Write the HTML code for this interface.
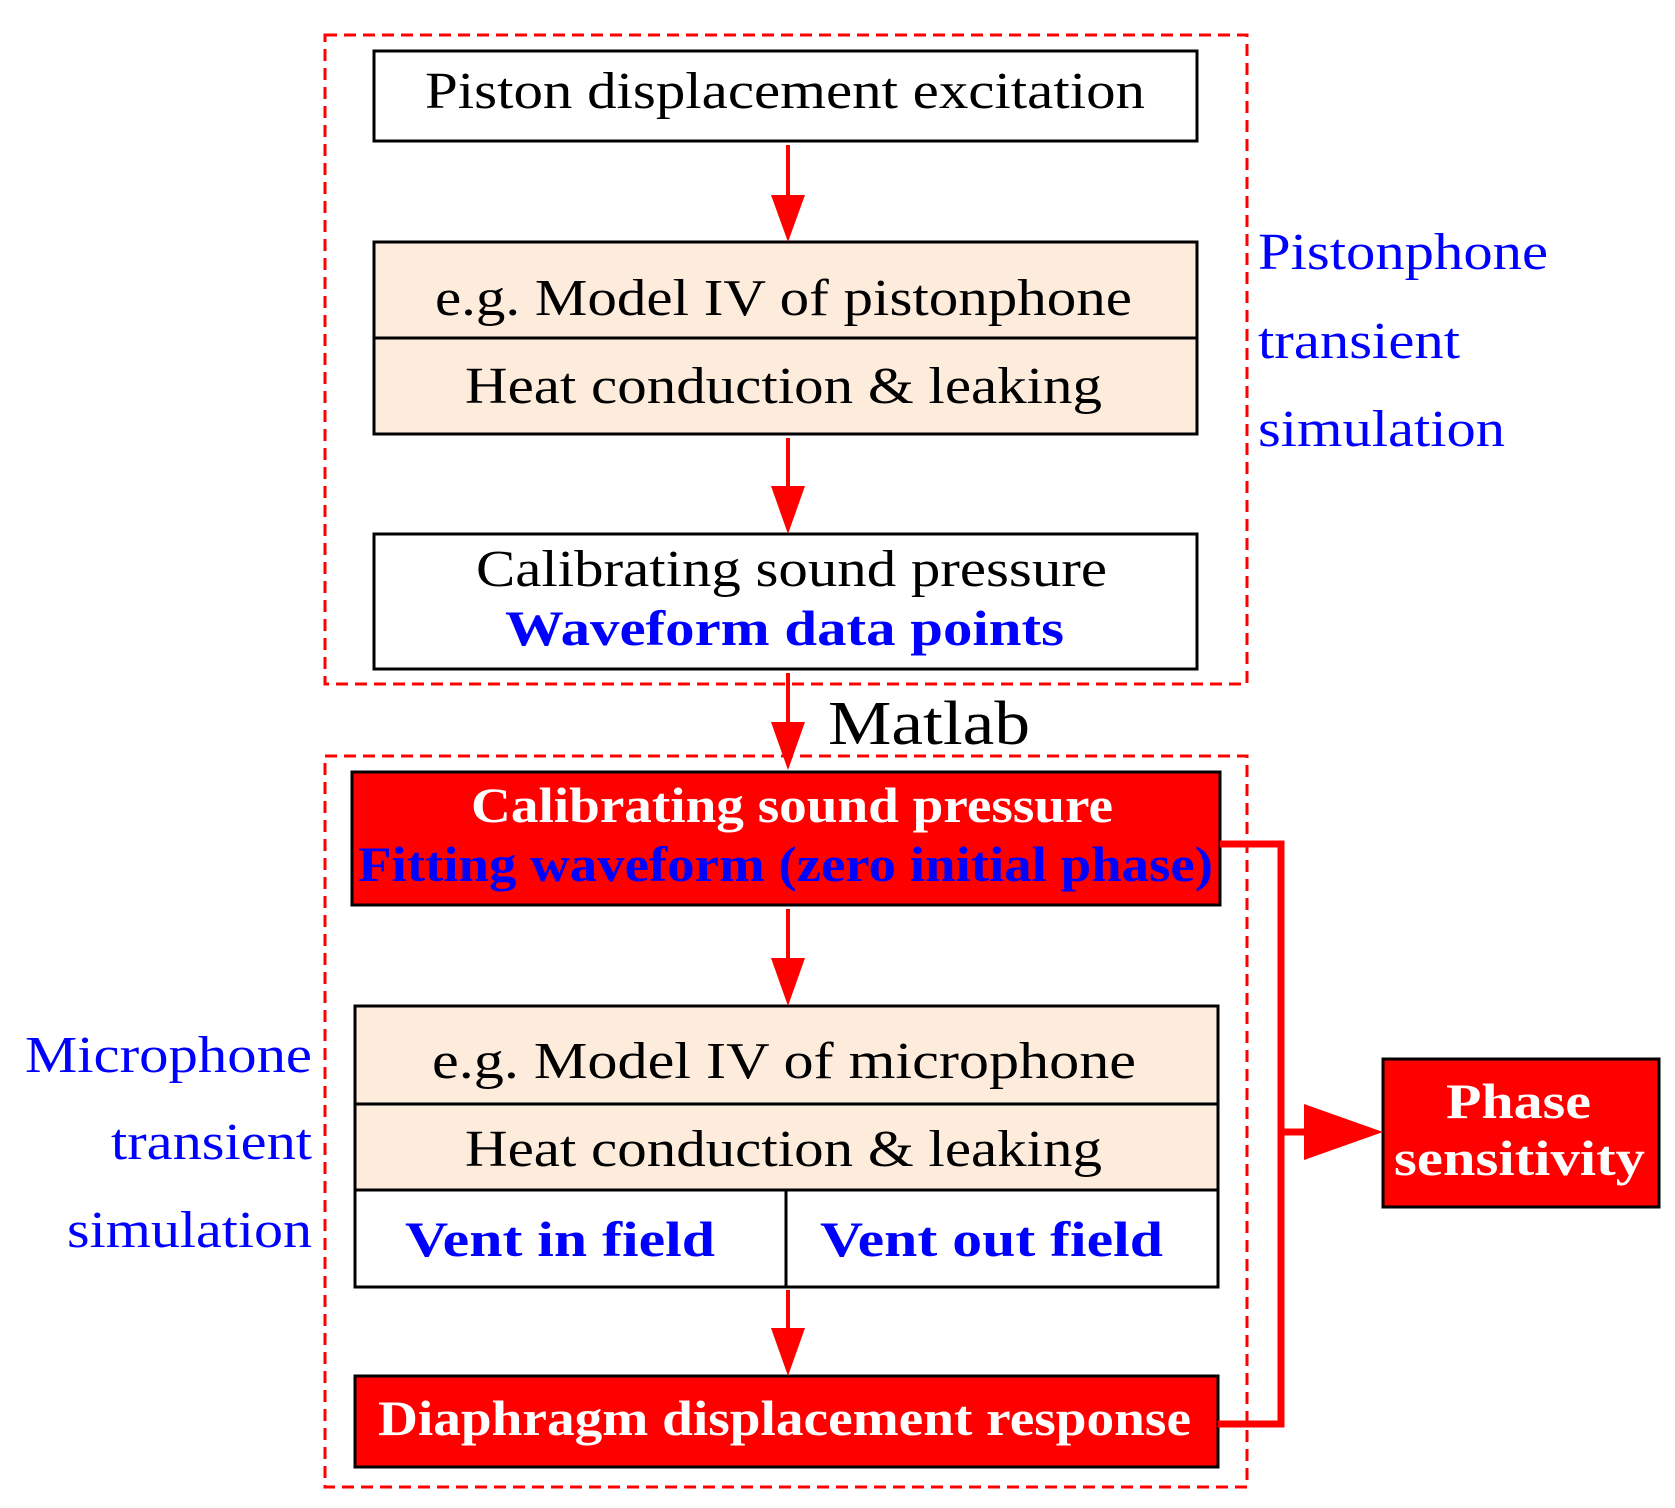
<!DOCTYPE html>
<html><head><meta charset="utf-8"><style>html,body{margin:0;padding:0;background:#fff}svg{display:block}</style></head><body>
<svg width="1675" height="1508" viewBox="0 0 1675 1508" xmlns="http://www.w3.org/2000/svg" font-family="Liberation Serif, serif">
<defs>
<marker id="ah" markerWidth="10" markerHeight="10" refX="10" refY="5" orient="auto" markerUnits="userSpaceOnUse" viewBox="0 0 10 10"><path d="M0,0 L10,5 L0,10 z" fill="#f00"/></marker>
</defs>
<g fill="none" stroke="#f00" stroke-width="3" stroke-dasharray="12,7">
<rect x="325" y="35" width="922" height="649"/>
<rect x="325" y="756" width="922" height="731"/>
</g>
<g stroke="#000" stroke-width="3">
<rect x="374" y="51" width="823" height="90" fill="#fff"/>
<rect x="374" y="242" width="823" height="192" fill="#fdebdc"/>
<line x1="374" y1="338" x2="1197" y2="338"/>
<rect x="374" y="534" width="823" height="135" fill="#fff"/>
<rect x="352" y="772" width="868" height="133" fill="#f00"/>
<rect x="355" y="1006" width="863" height="281" fill="#fdebdc"/>
<rect x="355" y="1190" width="863" height="97" fill="#fff"/>
<line x1="355" y1="1104" x2="1218" y2="1104"/>
<line x1="786" y1="1190" x2="786" y2="1287"/>
<rect x="355" y="1376" width="863" height="91" fill="#f00"/>
<rect x="1383" y="1059" width="276" height="148" fill="#f00"/>
</g>
<g stroke="#f00" stroke-width="4" fill="none">
<line x1="788" y1="145" x2="788" y2="200"/>
<line x1="788" y1="438" x2="788" y2="490"/>
<line x1="788" y1="673" x2="788" y2="725"/>
<line x1="788" y1="909" x2="788" y2="962"/>
<line x1="788" y1="1290" x2="788" y2="1332"/>
<polyline points="1220,844 1281,844 1281,1424 1218,1424" stroke-width="7"/>
<line x1="1281" y1="1132" x2="1320" y2="1132" stroke-width="7"/>
</g>
<g fill="#f00">
<path d="M771,195 L805,195 L788,242 z"/>
<path d="M771,486 L805,486 L788,534 z"/>
<path d="M771,722 L805,722 L788,770 z"/>
<path d="M771,958 L805,958 L788,1006 z"/>
<path d="M771,1328 L805,1328 L788,1376 z"/>
<path d="M1304,1104 L1383,1132 L1304,1160 z"/>
</g>
<g font-size="52" fill="#000" lengthAdjust="spacingAndGlyphs">
<text x="425" y="108" textLength="720" lengthAdjust="spacingAndGlyphs">Piston displacement excitation</text>
<text x="435" y="315" textLength="697" lengthAdjust="spacingAndGlyphs">e.g. Model IV of pistonphone</text>
<text x="465" y="403" textLength="637" lengthAdjust="spacingAndGlyphs">Heat conduction &amp; leaking</text>
<text x="476" y="586" textLength="631" lengthAdjust="spacingAndGlyphs">Calibrating sound pressure</text>
<text x="432" y="1078" textLength="704" lengthAdjust="spacingAndGlyphs">e.g.  Model IV of microphone</text>
<text x="465" y="1166" textLength="637" lengthAdjust="spacingAndGlyphs">Heat conduction &amp; leaking</text>
<text x="828" y="744" font-size="62" textLength="202" lengthAdjust="spacingAndGlyphs">Matlab</text>
</g>
<g font-size="50" font-weight="bold">
<text x="505" y="645" fill="#00f" textLength="559" lengthAdjust="spacingAndGlyphs">Waveform data points</text>
<text x="471" y="822" fill="#fff" textLength="642" lengthAdjust="spacingAndGlyphs">Calibrating sound pressure</text>
<text x="358" y="881" fill="#00f" textLength="855" lengthAdjust="spacingAndGlyphs">Fitting waveform (zero initial phase)</text>
<text x="405" y="1256" fill="#00f" textLength="310" lengthAdjust="spacingAndGlyphs">Vent in field</text>
<text x="820" y="1256" fill="#00f" textLength="343" lengthAdjust="spacingAndGlyphs">Vent out field</text>
<text x="378" y="1435" fill="#fff" textLength="813" lengthAdjust="spacingAndGlyphs">Diaphragm displacement response</text>
<text x="1446" y="1118" fill="#fff" textLength="145" lengthAdjust="spacingAndGlyphs">Phase</text>
<text x="1394" y="1175" fill="#fff" textLength="251" lengthAdjust="spacingAndGlyphs">sensitivity</text>
</g>
<g font-size="52" fill="#00f">
<text x="1258" y="269" textLength="290" lengthAdjust="spacingAndGlyphs">Pistonphone</text>
<text x="1258" y="358" textLength="202" lengthAdjust="spacingAndGlyphs">transient</text>
<text x="1258" y="446" textLength="247" lengthAdjust="spacingAndGlyphs">simulation</text>
<text x="25" y="1072" textLength="287" lengthAdjust="spacingAndGlyphs">Microphone</text>
<text x="111" y="1159" textLength="201" lengthAdjust="spacingAndGlyphs">transient</text>
<text x="67" y="1247" textLength="245" lengthAdjust="spacingAndGlyphs">simulation</text>
</g>
</svg>
</body></html>
